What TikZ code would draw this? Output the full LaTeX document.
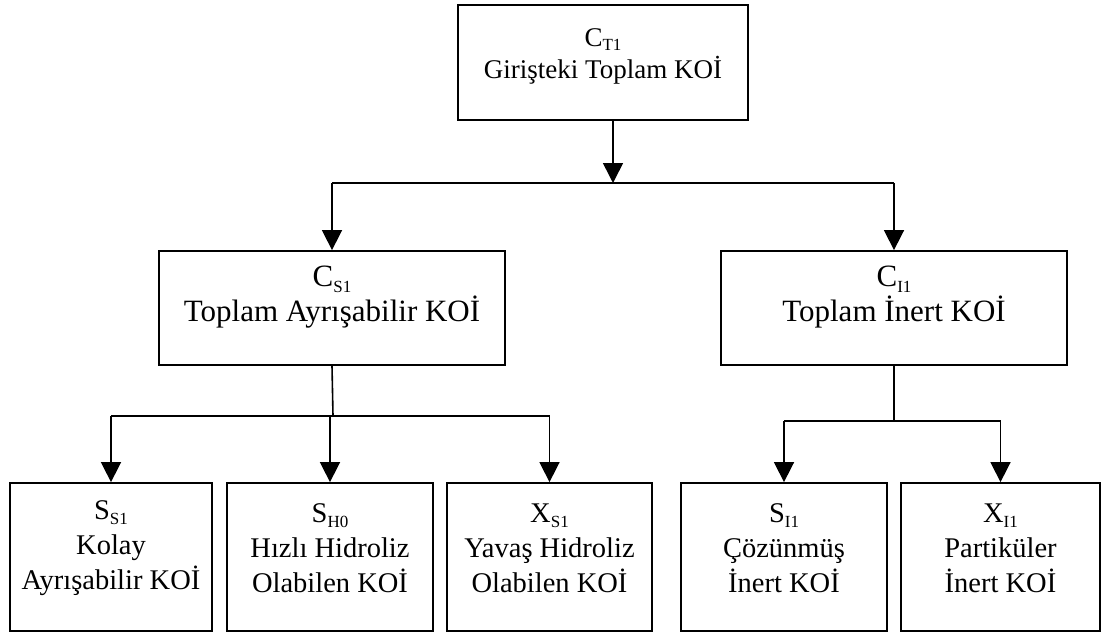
\documentclass[tikz,border=0pt]{standalone}
\usepackage{fontspec}
\setmainfont{Liberation Serif}
\usetikzlibrary{arrows.meta}
\newcommand{\subx}[1]{\raisebox{-0.18em}{\fontsize{17}{17}\selectfont #1}}
\tikzset{
  boxnode/.style={draw, line width=1.8pt, rectangle, inner sep=0pt},
  txtnode/.style={align=center, inner sep=0pt},
  toptxt/.style={txtnode, font=\fontsize{27}{32}\selectfont},
  midtxt/.style={txtnode, font=\fontsize{31}{35}\selectfont},
  bottxt/.style={txtnode, font=\fontsize{28.5}{35}\selectfont},
  conn/.style={line width=1.6pt},
  arr/.style={line width=1.6pt, -{Triangle[width=20pt,length=20pt]}},
}
\begin{document}
\begin{tikzpicture}[x=1pt,y=-1pt]
\useasboundingbox (0,0) rectangle (1105,642);
% boxes
\node[boxnode, minimum width=290pt, minimum height=115pt] (top) at (603,62.5) {};
\node[boxnode, minimum width=346pt, minimum height=114pt] (cs) at (332,308) {};
\node[boxnode, minimum width=346pt, minimum height=114pt] (ci) at (894,308) {};
\node[boxnode, minimum width=202pt, minimum height=148pt] (b1) at (111,557) {};
\node[boxnode, minimum width=206pt, minimum height=148pt] (b2) at (330,557) {};
\node[boxnode, minimum width=205pt, minimum height=148pt] (b3) at (549.5,557) {};
\node[boxnode, minimum width=206pt, minimum height=148pt] (b4) at (784,557) {};
\node[boxnode, minimum width=199pt, minimum height=148pt] (b5) at (1000.5,557) {};
% texts
\node[toptxt] (topt) at (603,56) {C\subx{T1}\\Girişteki Toplam KOİ};
\node[midtxt] (cst) at (332,297) {C\subx{S1}\\Toplam Ayrışabilir KOİ};
\node[midtxt] (cit) at (894,297) {C\subx{I1}\\Toplam İnert KOİ};
\node[bottxt] (b1t) at (111,548) {S\subx{S1}\\Kolay\\Ayrışabilir KOİ};
\node[bottxt] (b2t) at (330,548) {S\subx{H0}\\Hızlı Hidroliz\\Olabilen KOİ};
\node[bottxt] (b3t) at (549.5,548) {X\subx{S1}\\Yavaş Hidroliz\\Olabilen KOİ};
\node[bottxt] (b4t) at (784,548) {S\subx{I1}\\Çözünmüş\\İnert KOİ};
\node[bottxt] (b5t) at (1000.5,548) {X\subx{I1}\\Partiküler\\İnert KOİ};
% junctions
\coordinate (j0) at (613,183);
\coordinate (j1) at (333,416);
\coordinate (j2) at (894,421);
% top level
\draw[arr] (top.south -| j0) -- (j0);
\draw[conn] (cs.north |- j0) -- (ci.north |- j0);
\draw[arr] (cs.north |- j0) -- (cs.north);
\draw[arr] (ci.north |- j0) -- (ci.north);
% left subtree
\draw[conn] (cs.south) -- (j1);
\draw[conn] (b1.north |- j1) -- (b3.north |- j1);
\draw[arr] (b1.north |- j1) -- (b1.north);
\draw[arr] (b2.north |- j1) -- (b2.north);
\draw[arr] (b3.north |- j1) -- (b3.north);
% right subtree
\draw[conn] (ci.south) -- (j2);
\draw[conn] (b4.north |- j2) -- (b5.north |- j2);
\draw[arr] (b4.north |- j2) -- (b4.north);
\draw[arr] (b5.north |- j2) -- (b5.north);
\end{tikzpicture}
\end{document}
